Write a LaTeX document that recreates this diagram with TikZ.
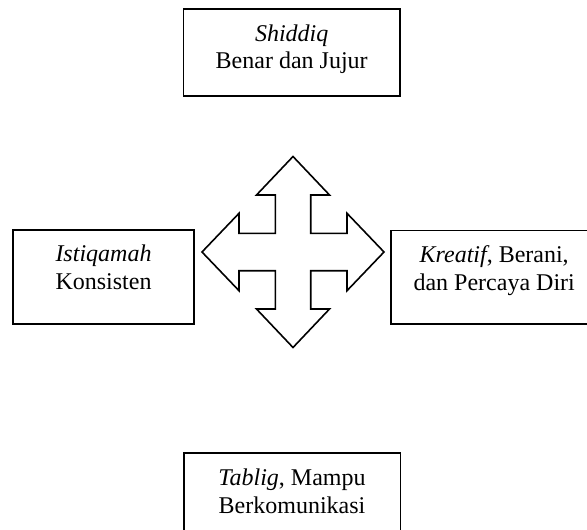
\documentclass[tikz,border=0pt]{standalone}
\usepackage{fontspec}
\setmainfont{Liberation Serif}
\usetikzlibrary{positioning}

\begin{document}
\begin{tikzpicture}[x=0.5pt,y=-0.5pt,
  kotak/.style={draw,line width=0.8pt,rectangle,inner sep=0pt},
  isi/.style={align=center,anchor=base,inner sep=0pt,font=\fontsize{12}{13.8}\selectfont},
  panah/.style={draw,line width=0.8pt,line join=miter,fill=white}]

\useasboundingbox (0,0) rectangle (587,529);
\clip (0,0) rectangle (587,529);

%% kotak-kotak sifat
\node[kotak,minimum width=108.3pt,minimum height=43.5pt] (shiddiq) at (291.7,52.5) {};
\node[kotak,minimum width=90.5pt,minimum height=47pt] (istiqamah) at (103.5,277) {};
\node[kotak,minimum width=103.5pt,minimum height=46.7pt] (kreatif) at (494.2,277.3) {};
\node[kotak,minimum width=108.3pt,minimum height=43.5pt] (tablig) at (292,496.5) {};

%% teks (base = garis dasar baris terakhir)
\node[isi] (shiddiqteks) at ([yshift=-30.3pt]shiddiq.north) {\textit{Shiddiq}\\Benar dan Jujur};
\node[isi] (istiqamahteks) at ([yshift=-30pt]istiqamah.north) {\textit{Istiqamah}\\Konsisten};
\node[isi] (kreatifteks) at ([yshift=-30.3pt]kreatif.north) {\textit{Kreatif}, Berani,\\dan Percaya Diri};
\node[isi] (tabligteks) at ([yshift=-30.4pt]tablig.north) {\textit{Tablig}, Mampu\\Berkomunikasi};

%% panah empat arah
\coordinate (pusat) at (293,252);
\draw[panah,shift={(pusat)}] (0,-95.5) -- (36.5,-57) -- (17.7,-57) -- (17.7,-18.7)
  -- (54,-18.7) -- (54,-38.7) -- (91,0) -- (54,38.7) -- (54,18.7) -- (17.7,18.7)
  -- (17.7,57) -- (36.5,57) -- (0,95.5) -- (-36.5,57) -- (-17.7,57) -- (-17.7,18.7)
  -- (-54,18.7) -- (-54,38.7) -- (-91,0) -- (-54,-38.7) -- (-54,-18.7) -- (-17.7,-18.7)
  -- (-17.7,-57) -- (-36.5,-57) -- cycle;

\end{tikzpicture}
\end{document}
